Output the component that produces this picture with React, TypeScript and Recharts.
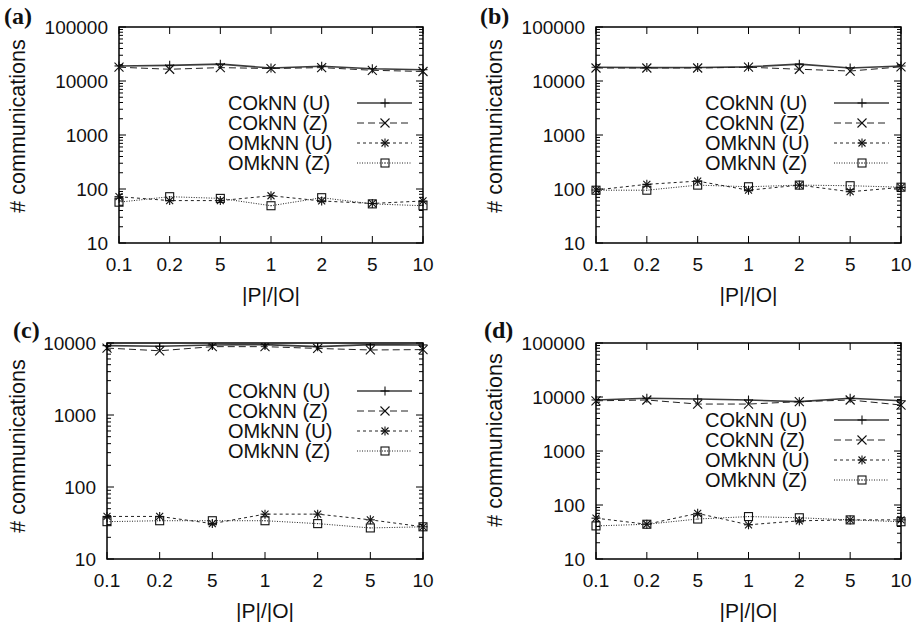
import React from 'react';
import { LineChart, Line, XAxis, YAxis, ReferenceArea, Legend } from 'recharts';

// |P|/|O| categories (x axis tick labels, in drawing order)
const categories = ['0.1', '0.2', '5', '1', '2', '5', '10'];
const seriesNames = ['COkNN (U)', 'COkNN (Z)', 'OMkNN (U)', 'OMkNN (Z)'];

// y tick labels (log scale)
const yTicksWide = [10, 100, 1000, 10000, 100000];
const yTicksShort = [10, 100, 1000, 10000];

// (a)
const aCoknnU = [19000, 19500, 20500, 17400, 18800, 16900, 16200];
const aCoknnZ = [18000, 16500, 17700, 17000, 17700, 15800, 15000];
const aOmknnU = [72, 61, 61, 75, 60, 54, 60];
const aOmknnZ = [57, 72, 67, 49, 69, 53, 49];

// (b)
const bCoknnU = [18000, 17700, 17800, 18300, 20500, 17400, 19000];
const bCoknnZ = [17400, 17400, 17400, 18000, 16500, 15300, 18300];
const bOmknnU = [96, 122, 140, 95, 118, 89, 107];
const bOmknnZ = [95, 95, 118, 110, 118, 115, 108];

// (c)
const cCoknnU = [9200, 9000, 9400, 9500, 8900, 9500, 9400];
const cCoknnZ = [8500, 7800, 8900, 8900, 8400, 8000, 8100];
const cOmknnU = [39, 39, 31, 42, 42, 35, 28];
const cOmknnZ = [33, 34, 34, 34, 31, 27, 28];

// (d)
const dCoknnU = [8800, 9500, 9200, 8800, 8200, 9500, 8500];
const dCoknnZ = [8500, 8800, 7400, 7400, 8200, 8800, 7100];
const dOmknnU = [57, 44, 70, 43, 51, 53, 53];
const dOmknnZ = [41, 44, 55, 61, 58, 53, 49];

const FONT = '"Liberation Sans", Arial, Helvetica, sans-serif';
const Y_W = 60;
const X_H = 30;

type MarkerKind = 'plus' | 'cross' | 'star' | 'square';

const seriesStyle: { key: string; kind: MarkerKind; dash?: string; color: string; width: number }[] = [
  { key: 'cu', kind: 'plus', color: '#3c3c3c', width: 1.6 },
  { key: 'cz', kind: 'cross', dash: '7 4', color: '#222', width: 1 },
  { key: 'ou', kind: 'star', dash: '3 3', color: '#222', width: 1 },
  { key: 'oz', kind: 'square', dash: '1 1.5', color: '#222', width: 1 },
];

const Marker = ({ kind, cx, cy }: { kind: MarkerKind; cx: number; cy: number }) => {
  const s = 4.5;
  const stroke = '#111';
  if (kind === 'plus') {
    return (
      <g stroke={stroke} strokeWidth={1.1}>
        <line x1={cx - s} x2={cx + s} y1={cy} y2={cy} />
        <line x1={cx} x2={cx} y1={cy - s} y2={cy + s} />
      </g>
    );
  }
  if (kind === 'cross') {
    return (
      <g stroke={stroke} strokeWidth={1.1}>
        <line x1={cx - s} x2={cx + s} y1={cy - s} y2={cy + s} />
        <line x1={cx - s} x2={cx + s} y1={cy + s} y2={cy - s} />
      </g>
    );
  }
  if (kind === 'star') {
    return (
      <g stroke={stroke} strokeWidth={1.1}>
        <line x1={cx - s} x2={cx + s} y1={cy} y2={cy} />
        <line x1={cx} x2={cx} y1={cy - s} y2={cy + s} />
        <line x1={cx - s + 1} x2={cx + s - 1} y1={cy - s + 1} y2={cy + s - 1} />
        <line x1={cx - s + 1} x2={cx + s - 1} y1={cy + s - 1} y2={cy - s + 1} />
      </g>
    );
  }
  return (
    <g stroke={stroke} strokeWidth={1.1} fill="none">
      <rect x={cx - 4} y={cy - 4} width={8} height={8} />
      <rect x={cx - 0.5} y={cy - 0.5} width={1} height={1} fill={stroke} strokeWidth={0} />
    </g>
  );
};

interface PanelProps {
  letter: string;
  left: number;
  top: number;
  width: number;
  height: number;
  plot: { l: number; r: number; t: number; b: number };
  majors: number[];
  values: number[][];
  legendPos: { x: number; y: number };
  yTitle: { x: number; y: number };
  letterPos: { x: number; y: number };
}

const Panel = ({ letter, left, top, width, height, plot, majors, values, legendPos, yTitle, letterPos }: PanelProps) => {
  const rows = categories.map((c, i) => ({
    idx: i,
    label: c,
    cu: values[0][i],
    cz: values[1][i],
    ou: values[2][i],
    oz: values[3][i],
  }));

  const minor: number[] = [];
  majors.slice(0, -1).forEach((m) => {
    for (let k = 2; k <= 9; k++) minor.push(m * k);
  });
  const allTicks = [...majors, ...minor].sort((p, q) => p - q);
  const yMin = majors[0];
  const yMax = majors[majors.length - 1];

  const renderYTick = (props: any) => {
    const { y, payload } = props;
    const major = majors.includes(payload.value);
    const len = major ? 7 : 4;
    return (
      <g key={`y-${payload.value}`}>
        <line x1={plot.l} x2={plot.l + len} y1={y} y2={y} stroke="#000" strokeWidth={1} />
        <line x1={plot.r - len} x2={plot.r} y1={y} y2={y} stroke="#000" strokeWidth={1} />
        {major && (
          <text x={plot.l - 11} y={y} textAnchor="end" dominantBaseline="central" fontFamily={FONT} fontSize={19} fill="#111">
            {payload.value}
          </text>
        )}
      </g>
    );
  };

  const renderXTick = (props: any) => {
    const { x, payload } = props;
    return (
      <g key={`x-${payload.value}`}>
        <line x1={x} x2={x} y1={plot.b} y2={plot.b - 7} stroke="#000" strokeWidth={1} />
        <line x1={x} x2={x} y1={plot.t} y2={plot.t + 7} stroke="#000" strokeWidth={1} />
        <text x={x} y={plot.b + 21} textAnchor="middle" dominantBaseline="central" fontFamily={FONT} fontSize={19} fill="#111">
          {categories[payload.value]}
        </text>
      </g>
    );
  };

  const legendContent = () => (
    <svg width={200} height={80} style={{ overflow: 'visible', display: 'block' }}>
      {seriesStyle.map((s, i) => {
        const cy = 10 + i * 20;
        return (
          <g key={s.key}>
            <text x={0} y={cy} dominantBaseline="central" fontFamily={FONT} fontSize={20} fill="#111">
              {seriesNames[i]}
            </text>
            <line x1={129} x2={184} y1={cy} y2={cy} stroke={s.color} strokeWidth={s.width} strokeDasharray={s.dash} />
            <Marker kind={s.kind} cx={157} cy={cy} />
          </g>
        );
      })}
    </svg>
  );

  return (
    <div style={{ position: 'absolute', left, top, width, height }}>
      <LineChart
        width={width}
        height={height}
        data={rows}
        margin={{ top: plot.t, bottom: height - plot.b - X_H, left: plot.l - Y_W, right: width - plot.r }}
      >
        <XAxis
          dataKey="idx"
          type="number"
          domain={[0, 6]}
          ticks={[0, 1, 2, 3, 4, 5, 6]}
          interval={0}
          height={X_H}
          axisLine={false}
          tickLine={false}
          tick={renderXTick}
          label={{
            content: () => (
              <text x={(plot.l + plot.r) / 2} y={plot.b + 51} textAnchor="middle" dominantBaseline="central" fontFamily={FONT} fontSize={21} fill="#111">
                |P|/|O|
              </text>
            ),
          }}
        />
        <YAxis
          type="number"
          scale="log"
          domain={[yMin, yMax]}
          ticks={allTicks}
          interval={0}
          width={Y_W}
          axisLine={false}
          tickLine={false}
          tick={renderYTick}
          allowDataOverflow
          label={{
            content: () => (
              <text
                x={yTitle.x}
                y={yTitle.y}
                transform={`rotate(-90, ${yTitle.x}, ${yTitle.y})`}
                textAnchor="middle"
                dominantBaseline="central"
                fontFamily={FONT}
                fontSize={21.5}
                fill="#111"
              >
                # communications
              </text>
            ),
          }}
        />
        <ReferenceArea x1={0} x2={6} y1={yMin} y2={yMax} fill="none" stroke="#000" strokeWidth={1.5} ifOverflow="visible" />
        {seriesStyle.map((s, i) => (
          <Line
            key={s.key}
            dataKey={s.key}
            name={seriesNames[i]}
            type="linear"
            stroke={s.color}
            strokeWidth={s.width}
            strokeDasharray={s.dash}
            isAnimationActive={false}
            dot={(p: any) => <Marker key={`${s.key}-${p.index}`} kind={s.kind} cx={p.cx} cy={p.cy} />}
            activeDot={false}
          />
        ))}
        <Legend
          layout="vertical"
          align="center"
          verticalAlign="middle"
          content={legendContent}
          wrapperStyle={{ left: legendPos.x, top: legendPos.y, width: 200, height: 80 }}
        />
      </LineChart>
      <div
        style={{
          position: 'absolute',
          left: letterPos.x,
          top: letterPos.y,
          fontFamily: '"Liberation Serif", "Times New Roman", serif',
          fontWeight: 'bold',
          fontSize: 24,
          lineHeight: '24px',
          color: '#111',
        }}
      >
        ({letter})
      </div>
    </div>
  );
};

export default function App() {
  return (
    <div style={{ position: 'absolute', left: 0, top: 0, width: 917, height: 626, background: '#fff' }}>
      <Panel
        letter="a"
        left={0}
        top={0}
        width={458}
        height={310}
        plot={{ l: 119, r: 423, t: 27, b: 243 }}
        majors={yTicksWide}
        values={[aCoknnU, aCoknnZ, aOmknnU, aOmknnZ]}
        legendPos={{ x: 228, y: 93 }}
        yTitle={{ x: 18, y: 126 }}
        letterPos={{ x: 4, y: 4 }}
      />
      <Panel
        letter="b"
        left={458}
        top={0}
        width={459}
        height={310}
        plot={{ l: 138, r: 443, t: 27, b: 243 }}
        majors={yTicksWide}
        values={[bCoknnU, bCoknnZ, bOmknnU, bOmknnZ]}
        legendPos={{ x: 247, y: 93 }}
        yTitle={{ x: 37, y: 126 }}
        letterPos={{ x: 22, y: 4 }}
      />
      <Panel
        letter="c"
        left={0}
        top={310}
        width={458}
        height={316}
        plot={{ l: 107, r: 423, t: 33, b: 249 }}
        majors={yTicksShort}
        values={[cCoknnU, cCoknnZ, cOmknnU, cOmknnZ]}
        legendPos={{ x: 228, y: 71 }}
        yTitle={{ x: 18, y: 136 }}
        letterPos={{ x: 13, y: 8 }}
      />
      <Panel
        letter="d"
        left={458}
        top={310}
        width={459}
        height={316}
        plot={{ l: 138, r: 443, t: 33, b: 249 }}
        majors={yTicksWide}
        values={[dCoknnU, dCoknnZ, dOmknnU, dOmknnZ]}
        legendPos={{ x: 247, y: 100 }}
        yTitle={{ x: 37, y: 130 }}
        letterPos={{ x: 26, y: 8 }}
      />
    </div>
  );
}
